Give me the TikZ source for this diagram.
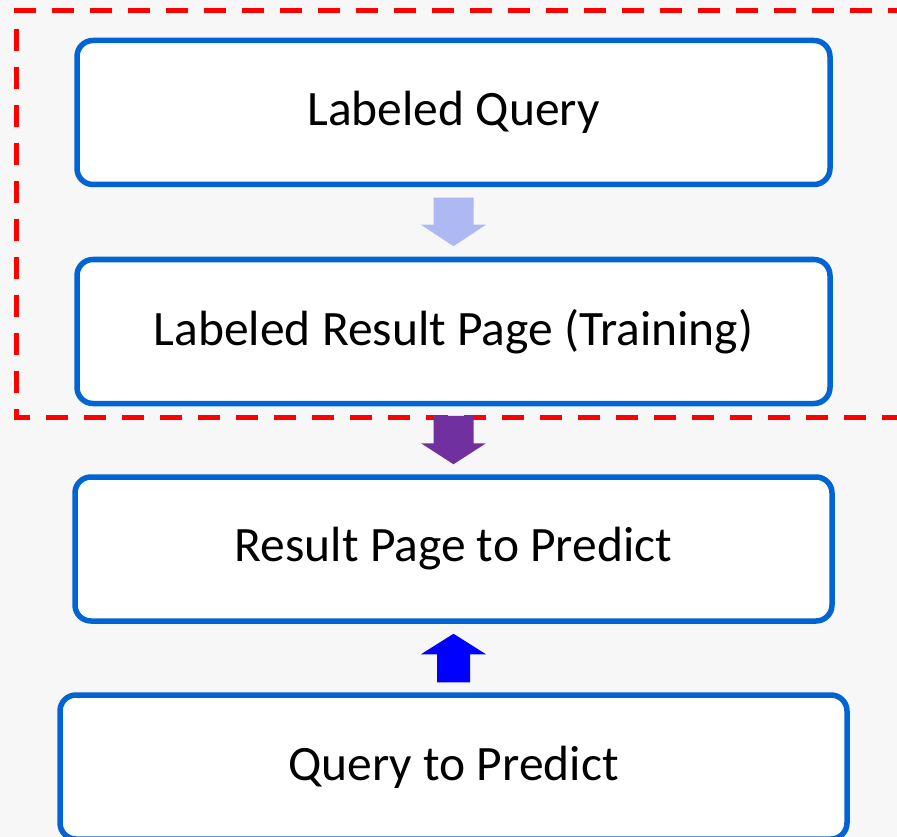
\documentclass[tikz,border=0pt]{standalone}
\usepackage{fontspec}
\setmainfont{Carlito}
\usetikzlibrary{calc}
\definecolor{bgc}{RGB}{247,247,247}
\definecolor{boxblue}{RGB}{0,100,212}
\definecolor{arrlight}{RGB}{174,185,244}
\definecolor{arrpurple}{RGB}{112,48,160}
\definecolor{arrblue}{RGB}{0,0,255}
\definecolor{dashred}{RGB}{255,0,0}
\tikzset{
  stepbox/.style={draw=boxblue, line width=5.5pt, fill=white, rounded corners=16pt,
    minimum width=753pt, minimum height=144pt, inner sep=0pt,
    font=\fontsize{49.5}{58}\selectfont, text=black},
  framebox/.style={draw=dashred, line width=5pt, dash pattern=on 22pt off 16pt},
}
\begin{document}
\begin{tikzpicture}[x=1pt,y=-1pt]
\fill[bgc] (0,0) rectangle (897,837);
\useasboundingbox (0,0) rectangle (897,837);
\begin{scope}
\clip (0,0) rectangle (897,837);
\draw[framebox] (910,11) -- (16,11) -- (16,417) -- (910,417);
\node[stepbox] (b1) at (453.5,112.5) {Labeled Query};
\node[stepbox] (b2) at (453.5,331.5) {Labeled Result Page (Training)};
\node[stepbox, minimum width=757pt] (b3) at (453.5,549) {Result Page to Predict};
\node[stepbox, minimum width=787pt] (b4) at (453.5,767) {Query to Predict};
% arrow 1
\fill[arrlight] ($(b1.south)+(-20,10.5)$) -- ++(40,0) -- ++(0,27) -- ++(12.5,0)
  -- ($(b2.north)+(0,-10.5)$) -- ($(b1.south)+(-32.5,37.5)$) -- ++(12.5,0) -- cycle;
% arrow 2
\fill[arrpurple] ($(b2.south)+(-20,9.5)$) -- ++(40,0) -- ++(0,27.5) -- ++(12.5,0)
  -- ($(b3.north)+(0,-10)$) -- ($(b2.south)+(-32.5,37)$) -- ++(12.5,0) -- cycle;
% arrow 3
\fill[arrblue] ($(b4.north)+(-16.5,-10)$) -- ++(33,0) -- ++(0,-28) -- ++(16,0)
  -- ($(b3.south)+(0,10)$) -- ($(b4.north)+(-32.5,-38)$) -- ++(16,0) -- cycle;
\end{scope}
\end{tikzpicture}
\end{document}
